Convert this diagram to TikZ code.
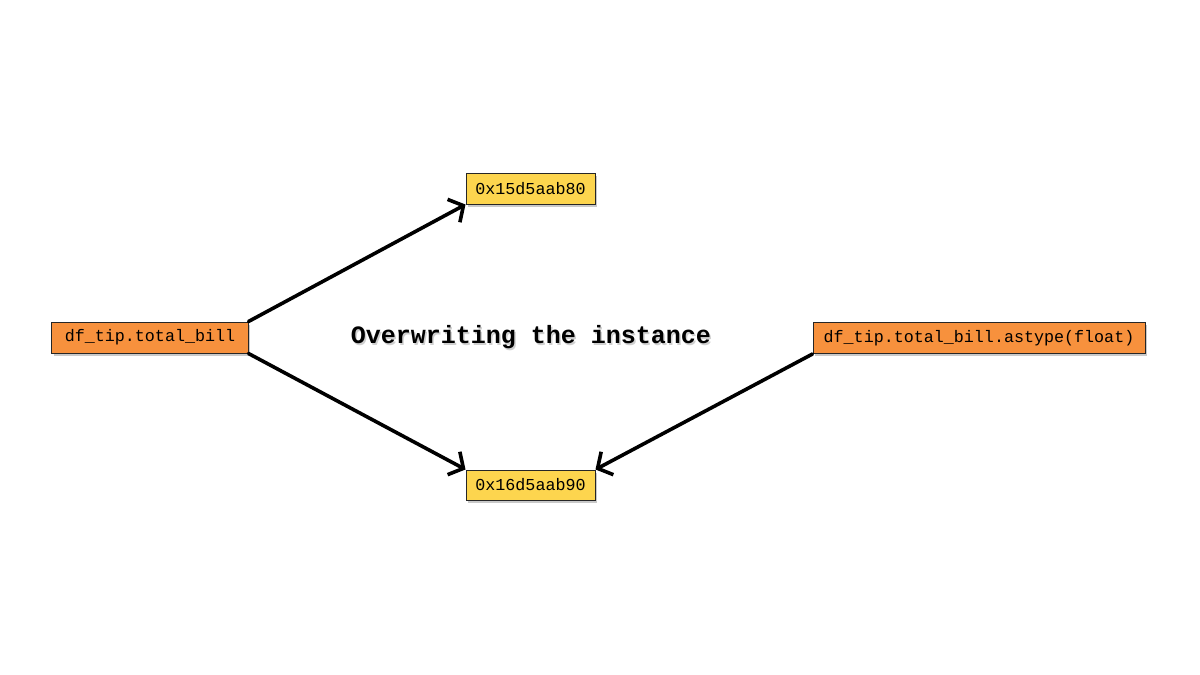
\documentclass[tikz,border=0pt]{standalone}
\usepackage{fontspec}
\setmonofont{Liberation Mono}
\usetikzlibrary{arrows.meta,shadows}
\definecolor{boxorange}{RGB}{247,145,61}
\definecolor{boxyellow}{RGB}{253,213,78}
\tikzset{
  membox/.style={draw=black!85, line width=1bp, inner sep=0pt, font=\ttfamily\fontsize{16.7bp}{20bp}\selectfont,
    drop shadow={shadow xshift=2bp, shadow yshift=-2.5bp, opacity=0.35, fill=black!60}},
  varbox/.style={membox, fill=boxorange},
  addrbox/.style={membox, fill=boxyellow},
  ptr/.style={line width=3.6bp, line cap=round, -{Straight Barb[length=11bp,width=26bp,line width=3.6bp]}},
  titletext/.style={font=\ttfamily\bfseries\fontsize{25bp}{30bp}\selectfont}
}
\begin{document}
\begin{tikzpicture}[x=1bp,y=-1bp]
\useasboundingbox (0,0) rectangle (1200,675);
\fill[white] (0,0) rectangle (1200,675);
\node[varbox, minimum width=196bp, minimum height=31bp] (a) at (150,337.5) {df\_tip.total\_bill};
\node[addrbox, minimum width=129bp, minimum height=30bp] (t) at (530.5,189) {0x15d5aab80};
\node[addrbox, minimum width=129bp, minimum height=30bp] (b) at (530.5,485) {0x16d5aab90};
\node[varbox, minimum width=332bp, minimum height=31bp] (r) at (979,338) {df\_tip.total\_bill.astype(float)};
\node[titletext, text=black!30, opacity=0.6] (ts) at (532.5,339.5) {Overwriting the instance};
\node[titletext] (title) at (531,337.5) {Overwriting the instance};
\draw[ptr] (a.north east) -- (t.south west);
\draw[ptr] (a.south east) -- (b.north west);
\draw[ptr] (r.south west) -- (b.north east);
\end{tikzpicture}
\end{document}
